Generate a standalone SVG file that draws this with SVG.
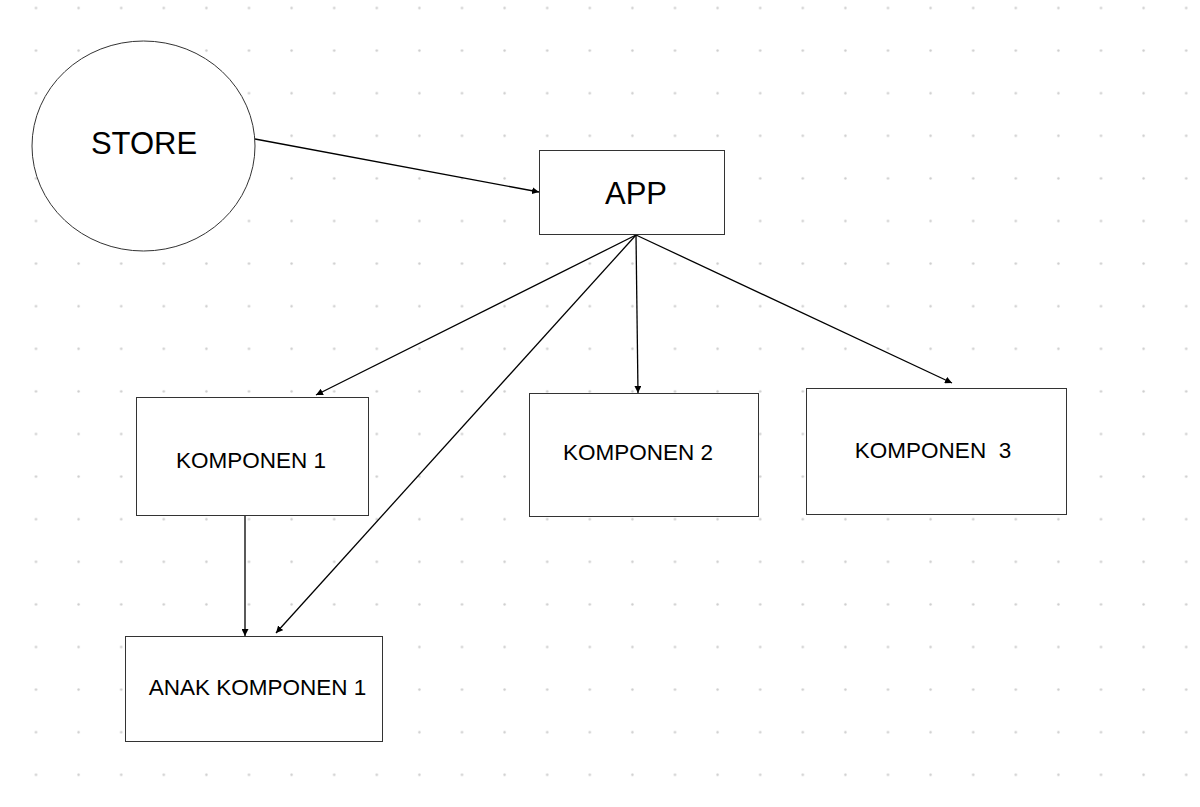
<svg xmlns="http://www.w3.org/2000/svg" width="1200" height="807" viewBox="0 0 1200 807">
<style>
.n{fill:#fff;stroke:#333;stroke-width:1}
.t{font-family:"Liberation Sans",Arial,sans-serif;fill:#000}
.c{stroke:#000;stroke-width:1.3;fill:none;marker-end:url(#a)}
</style>
<defs>
<pattern id="g" x="14.7" y="-13.3" width="42.6" height="42.6" patternUnits="userSpaceOnUse"><circle cx="21.3" cy="21.3" r="1.2" fill="#ccc"/></pattern>
<marker id="a" viewBox="0 0 10 10" refX="10" refY="5" markerWidth="7" markerHeight="7" markerUnits="userSpaceOnUse" orient="auto"><path d="M0,0L10,5L0,10z" fill="#000"/></marker>
</defs>
<rect width="1200" height="807" fill="#fff"/>
<rect width="1200" height="807" fill="url(#g)"/>
<g id="connectors">
<line class="c" x1="255" y1="139" x2="539" y2="192"/>
<line class="c" x1="636" y1="235" x2="316" y2="395"/>
<line class="c" x1="636" y1="235" x2="276" y2="633"/>
<line class="c" x1="636" y1="235" x2="638" y2="393"/>
<line class="c" x1="636" y1="235" x2="952" y2="383"/>
<line class="c" x1="245" y1="516" x2="245" y2="636"/>
</g>
<g id="store"><ellipse class="n" cx="143.5" cy="146" rx="111.5" ry="105"/><text class="t" x="144" y="154" font-size="31" text-anchor="middle">STORE</text></g>
<g id="app"><rect class="n" x="539.5" y="150.5" width="185" height="84"/><text class="t" x="636" y="204" font-size="31" text-anchor="middle">APP</text></g>
<g id="k1"><rect class="n" x="136.5" y="397.5" width="232" height="118"/><text class="t" x="251" y="468" font-size="22.5" text-anchor="middle">KOMPONEN 1</text></g>
<g id="k2"><rect class="n" x="529.5" y="393.5" width="229" height="123"/><text class="t" x="638" y="460" font-size="22.5" text-anchor="middle">KOMPONEN 2</text></g>
<g id="k3"><rect class="n" x="806.5" y="388.5" width="260" height="126"/><text class="t" x="933" y="458" font-size="22.5" text-anchor="middle" xml:space="preserve">KOMPONEN  3</text></g>
<g id="ak1"><rect class="n" x="125.5" y="636.5" width="257" height="105"/><text class="t" x="257.5" y="695" font-size="22.5" text-anchor="middle">ANAK KOMPONEN 1</text></g>
</svg>
